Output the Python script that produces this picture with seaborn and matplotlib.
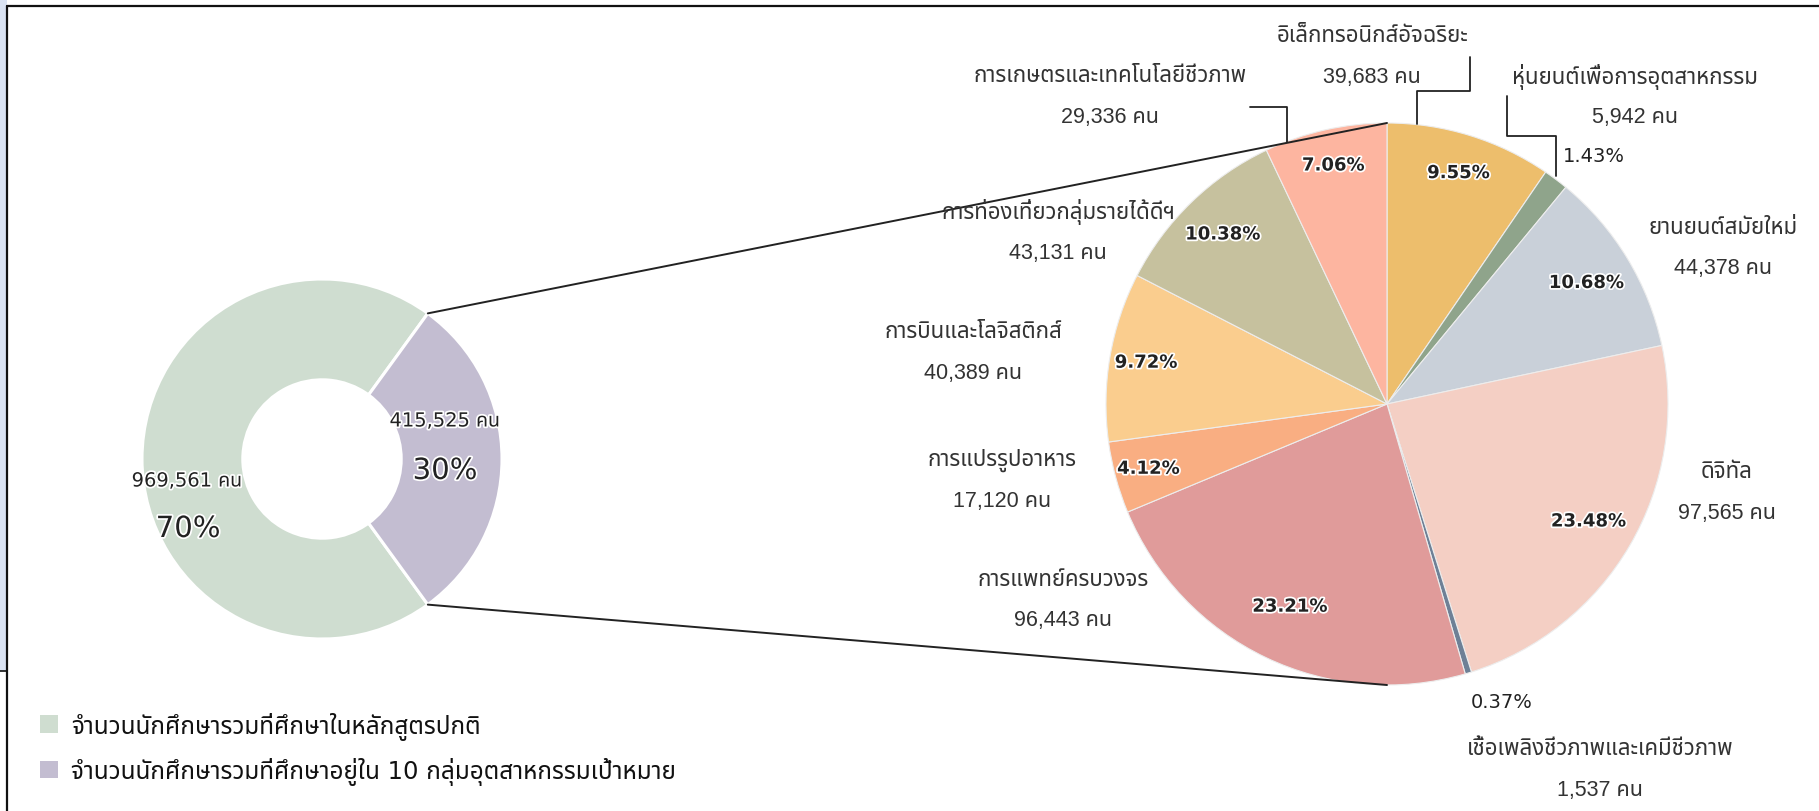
import matplotlib
matplotlib.use('Agg')
import matplotlib.pyplot as plt
import matplotlib.patheffects as pe
from matplotlib import font_manager
from matplotlib.ft2font import FT2Font
from matplotlib.patches import ConnectionPatch, Rectangle
from matplotlib.lines import Line2D
import numpy as np
import seaborn as sns

W, H = 1819, 812

# donut: regular programmes vs 10 target industries
main_labels = ['จำนวนนักศึกษารวมที่ศึกษาในหลักสูตรปกติ',
               'จำนวนนักศึกษารวมที่ศึกษาอยู่ใน 10 กลุ่มอุตสาหกรรมเป้าหมาย']
main_counts = [969561, 415525]
main_pct = ['70%', '30%']
main_colors = ['#CFDDD0', '#C3BDD1']

# pie: breakdown of the 10 target industries (clockwise from top)
group_names = ['อิเล็กทรอนิกส์อัจฉริยะ', 'หุ่นยนต์เพื่อการอุตสาหกรรม', 'ยานยนต์สมัยใหม่',
               'ดิจิทัล', 'เชื้อเพลิงชีวภาพและเคมีชีวภาพ', 'การแพทย์ครบวงจร',
               'การแปรรูปอาหาร', 'การบินและโลจิสติกส์', 'การท่องเที่ยวกลุ่มรายได้ดีฯ',
               'การเกษตรและเทคโนโลยีชีวภาพ']
group_counts = [39683, 5942, 44378, 97565, 1537, 96443, 17120, 40389, 43131, 29336]
group_pct = ['9.55%', '1.43%', '10.68%', '23.48%', '0.37%', '23.21%', '4.12%',
             '9.72%', '10.38%', '7.06%']
group_colors = ['#EDBE6C', '#8FA48B', '#C9D0D9', '#F4CFC4', '#6E8096',
                '#E09B9A', '#F9AE82', '#FACD8E', '#C6C19E', '#FDB5A0']

# label layout (pixel centres of the name line), percent radius inside the pie
name_xy = [(1372, 36), (1635, 77), (1723, 228), (1727, 473), (1600, 750),
           (1063, 580), (1002, 460), (973, 333), (1058, 212), (1110, 76)]
count_dy = 41
pct_r = [0.86, None, 0.83, 0.83, None, 0.80, 0.88, 0.87, 0.84, 0.87]
pct_outside = {1: (1594, 157), 4: (1502, 703)}
leaders = [
    [(1417, 125), (1417, 92), (1470, 92), (1470, 58)],
    [(1556, 177), (1556, 137), (1507, 137), (1507, 97)],
    [(1250, 108), (1287, 108), (1287, 143)],
]


def find_thai_font():
    preferred = ['Tahoma', 'Leelawadee UI', 'Noto Sans Thai', 'Noto Sans Thai UI',
                 'Loma', 'Garuda', 'Waree', 'Sawasdee', 'Umpush', 'Norasi', 'Kinnari']
    found = {}
    for f in font_manager.fontManager.ttflist:
        if f.name in found:
            continue
        try:
            cmap = FT2Font(f.fname).get_charmap()
        except Exception:
            continue
        if 0x0E01 in cmap:
            found[f.name] = f.fname
    for name in preferred:
        if name in found:
            return name
    return next(iter(found), None)


def fx(x, y):
    return x / W, 1 - y / H


sns.set_theme(style='white')
thai = find_thai_font()
fam_sans = ['Liberation Sans'] + ([thai] if thai else []) + ['DejaVu Sans']
fam_tah = ['DejaVu Sans'] + ([thai] if thai else [])
plt.rcParams['font.family'] = fam_sans

fig = plt.figure(figsize=(W / 100, H / 100), dpi=100)
fig.patch.set_facecolor('white')

# donut axes, centre (322, 460) r 180
dc, dr = (322, 460), 180
ax1 = fig.add_axes([(dc[0] - dr) / W, 1 - (dc[1] + dr) / H, 2 * dr / W, 2 * dr / H])
wedges1, _ = ax1.pie(main_counts, colors=main_colors, startangle=54, counterclock=True,
                     wedgeprops=dict(width=0.56, edgecolor='white', linewidth=2.2))
ax1.set_xlim(-1, 1)
ax1.set_ylim(-1, 1)
ax1.set_aspect('equal')
ax1.axis('off')

# pie axes, centre (1387, 405) r 281
pc, pr = (1387, 405), 281
ax2 = fig.add_axes([(pc[0] - pr) / W, 1 - (pc[1] + pr) / H, 2 * pr / W, 2 * pr / H])
wedges2, _ = ax2.pie(group_counts, colors=group_colors, startangle=90, counterclock=False,
                     wedgeprops=dict(edgecolor='#EDEDED', linewidth=0.8))
ax2.set_xlim(-1, 1)
ax2.set_ylim(-1, 1)
ax2.set_aspect('equal')
ax2.axis('off')

halo = [pe.withStroke(linewidth=2.5, foreground='white')]

# donut labels
fig.text(*fx(445, 422), f'{main_counts[1]:,} คน', ha='center', va='center',
         fontsize=14, color='#222222', family=fam_tah, path_effects=halo)
fig.text(*fx(445, 472), main_pct[1], ha='center', va='center',
         fontsize=21, color='#222222', family=fam_tah, path_effects=halo)
fig.text(*fx(187, 482), f'{main_counts[0]:,} คน', ha='center', va='center',
         fontsize=14, color='#222222', family=fam_tah, path_effects=halo)
fig.text(*fx(188, 530), main_pct[0], ha='center', va='center',
         fontsize=21, color='#222222', family=fam_tah, path_effects=halo)

# pie percent labels
for i, w in enumerate(wedges2):
    if pct_r[i] is None:
        x, y = pct_outside[i]
        fig.text(*fx(x, y), group_pct[i], ha='center', va='center', fontsize=14,
                 color='#222222', family=fam_tah)
        continue
    ang = np.deg2rad((w.theta1 + w.theta2) / 2)
    ax2.text(pct_r[i] * np.cos(ang), pct_r[i] * np.sin(ang), group_pct[i],
             ha='center', va='center', fontsize=13, weight='bold', color='#222222',
             family=fam_tah, path_effects=halo)

# pie name / count labels
for i, (x, y) in enumerate(name_xy):
    fig.text(*fx(x, y), group_names[i], ha='center', va='center', fontsize=16,
             color='#333333')
    fig.text(*fx(x, y + count_dy), f'{group_counts[i]:,} คน', ha='center',
             va='center', fontsize=15.5, color='#333333')

for pts in leaders:
    xs, ys = zip(*[fx(x, y) for x, y in pts])
    fig.add_artist(Line2D(xs, ys, transform=fig.transFigure, color='#222222', lw=1.3))

# connector lines donut -> pie
for a, yb in [(54, 1), (-54, -1)]:
    xa = (np.cos(np.deg2rad(a)), np.sin(np.deg2rad(a)))
    con = ConnectionPatch(xyA=xa, coordsA=ax1.transData, xyB=(0, yb),
                          coordsB=ax2.transData, color='#222222', lw=1.4)
    fig.add_artist(con)

# legend (no path effects here: they break glyphs when fonts fall back)
leg = fig.legend(wedges1, main_labels, loc='upper left', bbox_to_anchor=fx(18, 691),
                 frameon=False, handlelength=0.75, handleheight=0.75, handletextpad=0.55,
                 labelspacing=0.7, prop=dict(size=17.5, family=fam_tah))
for t in leg.get_texts():
    t.set_color('#111111')
for h in leg.legend_handles:
    h.set_edgecolor('none')

# page frame
fig.add_artist(Rectangle(fx(0, 672), 7 / W, 672 / H, transform=fig.transFigure,
                         facecolor='#DAE3F3', edgecolor='none'))
fig.add_artist(Line2D([0, 7 / W], [1 - 672 / H] * 2, transform=fig.transFigure,
                      color='#111111', lw=1.2))
fig.add_artist(Line2D([7 / W, 1], [1 - 7 / H] * 2, transform=fig.transFigure,
                      color='#111111', lw=1.6))
fig.add_artist(Line2D([7 / W] * 2, [0, 1 - 7 / H], transform=fig.transFigure,
                      color='#111111', lw=1.6))

fig.savefig('out.png', dpi=100)
